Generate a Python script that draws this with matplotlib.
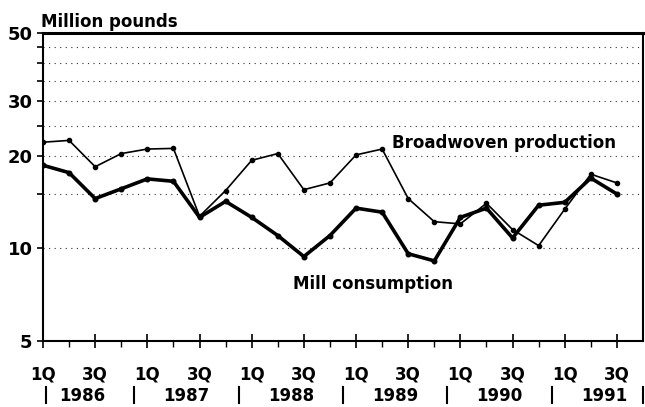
import matplotlib
matplotlib.use("Agg")
import matplotlib.pyplot as plt
from matplotlib.ticker import FixedLocator, NullFormatter

plt.rcParams['font.family'] = ['DejaVu Sans']
plt.rcParams['font.weight'] = 'bold'

# Quarterly data, 1Q 1986 .. 3Q 1991
periods = [f"{q}Q {y}" for y in range(1986, 1992) for q in (1, 2, 3, 4)][:23]
broadwoven = [22.1, 22.4, 18.4, 20.3, 21.0, 21.1, 12.7, 15.4, 19.3, 20.3, 15.5, 16.3,
              20.1, 21.0, 14.5, 12.2, 12.0, 14.0, 11.5, 10.2, 13.4, 17.4, 16.3]
mill = [18.6, 17.6, 14.5, 15.6, 16.8, 16.5, 12.6, 14.2, 12.6, 11.0, 9.4, 11.0,
        13.5, 13.1, 9.6, 9.1, 12.6, 13.5, 10.8, 13.8, 14.1, 16.9, 15.0]
quarter_tick_labels = ["1Q", "3Q"]
years = ["1986", "1987", "1988", "1989", "1990", "1991"]
y_major = [5, 10, 20, 30, 50]
y_minor = [15, 25, 35, 40, 45]

fig = plt.figure(figsize=(6.45, 4.07), dpi=100)
ax = fig.add_axes([43/645, 1-341/407, 600/645, 308/407])

x = list(range(len(periods)))
ax.plot(x, broadwoven, color='black', lw=1.2, marker='o', ms=3.0, zorder=3)
ax.plot(x, mill, color='black', lw=2.6, marker='o', ms=3.3, zorder=4)

ax.set_yscale('log')
ax.set_ylim(5, 50)
ax.set_xlim(0, 23)

ax.yaxis.set_major_locator(FixedLocator(y_major))
ax.set_yticklabels([str(v) for v in y_major])
ax.yaxis.set_minor_locator(FixedLocator(y_minor))
ax.yaxis.set_minor_formatter(NullFormatter())
ax.tick_params(axis='y', which='both', direction='out', length=4, width=1.2,
               labelsize=13, pad=3.5)

major_x = [i for i in x if i % 2 == 0]
minor_x = [i for i in x if i % 2 == 1]
ax.set_xticks(major_x)
ax.set_xticklabels([quarter_tick_labels[(i // 2) % 2] for i in major_x])
ax.set_xticks(minor_x, minor=True)
ax.tick_params(axis='x', which='major', direction='inout', length=10, width=1.2,
               labelsize=12, pad=13)
ax.tick_params(axis='x', which='minor', direction='out', length=4.5, width=1.0)

ax.grid(True, axis='y', which='both', linestyle=(0, (1, 4)), color='#333333', lw=0.8)

for s in ['left', 'bottom', 'right']:
    ax.spines[s].set_linewidth(1.5)
ax.spines['top'].set_linewidth(2.2)

# year separators and labels
tr = ax.get_xaxis_transform()
sep_pos = [0.1, 3.5, 7.5, 11.5, 15.5, 19.5, 23]
for sx in sep_pos:
    ax.plot([sx, sx], [-0.149, -0.201], transform=tr, color='black', lw=1.5, clip_on=False)
for k, yr in enumerate(years):
    ax.text(1.5 + 4 * k, -0.179, yr, transform=tr, ha='center', va='center',
            fontsize=12, fontweight='bold')

ax.text(13.37, 21.9, "Broadwoven production", ha='left', va='center',
        fontsize=12, fontweight='bold')
ax.text(9.58, 7.68, "Mill consumption", ha='left', va='center',
        fontsize=12, fontweight='bold')
fig.text(41/645, 1-27/407, "Million pounds", ha='left', va='baseline',
         fontsize=12, fontweight='bold')

fig.savefig("out.png", dpi=100)
